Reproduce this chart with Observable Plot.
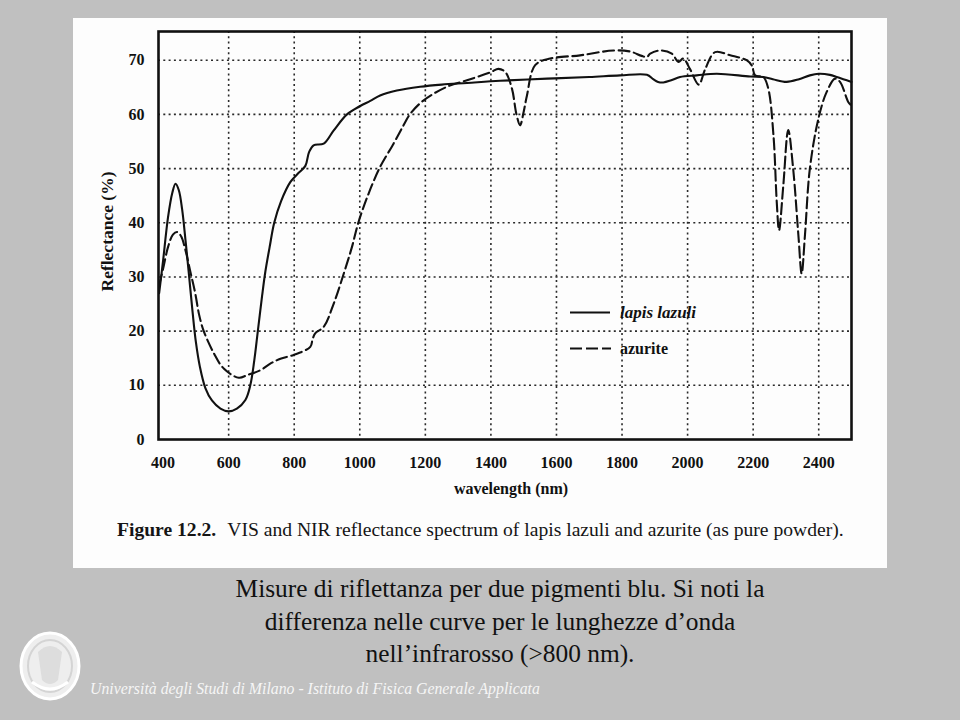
<!DOCTYPE html>
<html>
<head>
<meta charset="utf-8">
<script src="https://cdn.jsdelivr.net/npm/d3@7"></script>
<script src="https://cdn.jsdelivr.net/npm/@observablehq/plot@0.6"></script>
<style>
  html, body { margin: 0; padding: 0; }
  body { width: 960px; height: 720px; background: #c0c0c0; position: relative; overflow: hidden; font-family: "Liberation Serif", serif; }
  #panel { position: absolute; left: 73px; top: 18px; width: 814px; height: 550px; background: #fdfdfd; }
  #chart { position: absolute; left: 73px; top: 18px; }
  #legend { position: absolute; left: 560px; top: 295px; }
  #caption { position: absolute; left: 117px; top: 520px; font-size: 19.6px; line-height: 19.6px; color: #151515; white-space: nowrap; }
  #caption b { margin-right: 11px; }
  #slide { position: absolute; left: 100px; top: 572px; width: 800px; text-align: center; font-family: "Liberation Serif", serif; font-size: 25.4px; line-height: 32.5px; color: #111; }
  #footer { position: absolute; left: 90px; top: 681px; font-size: 15.8px; line-height: 16px; font-style: italic; color: #f6f6f6; white-space: nowrap; }
  #logo { position: absolute; left: 18px; top: 630px; }
</style>
</head>
<body>
<div id="panel"></div>
<div id="chart"></div>
<svg id="legend" width="190" height="70">
  <line x1="10" x2="50" y1="17.5" y2="17.5" stroke="#111" stroke-width="2"></line>
  <text x="60" y="23" font-family="Liberation Serif" font-weight="bold" font-style="italic" font-size="17" fill="#111">lapis lazuli</text>
  <line x1="10" x2="51" y1="53.5" y2="53.5" stroke="#111" stroke-width="2" stroke-dasharray="12,4"></line>
  <text x="60" y="59" font-family="Liberation Serif" font-weight="bold" font-size="16" fill="#111">azurite</text>
</svg>
<div id="caption"><b>Figure 12.2.</b>VIS and NIR reflectance spectrum of lapis lazuli and azurite (as pure powder).</div>
<div id="slide">Misure di riflettanza per due pigmenti blu. Si noti la<br>differenza nelle curve per le lunghezze d’onda<br>nell’infrarosso (&gt;800 nm).</div>
<svg id="logo" width="66" height="74">
  <ellipse cx="32" cy="36" rx="29" ry="33" fill="#eeeeee" stroke="#ffffff" stroke-width="3"></ellipse>
  <ellipse cx="32" cy="36" rx="22" ry="26" fill="none" stroke="#d4d4d4" stroke-width="2"></ellipse>
  <path d="M20 22 Q32 10 44 22 L40 50 Q32 58 24 50 Z" fill="#d8d8d8" opacity="0.8"></path>
  <path d="M14 52 Q32 66 50 52" fill="none" stroke="#ffffff" stroke-width="3"></path>
</svg>
<div id="footer">Università degli Studi di Milano - Istituto di Fisica Generale Applicata</div>
<script>
// ---- data ----
const lapisWavelength = [388, 400, 415, 428, 438, 448, 458, 468, 478, 490, 500, 512, 529, 549, 575, 600, 625, 651, 666, 678, 689, 702, 712, 725, 739, 760, 788, 810, 834, 845, 859, 890, 920, 961, 1000, 1032, 1062, 1113, 1184, 1250, 1327, 1428, 1571, 1700, 1794, 1876, 1895, 1910, 1926, 1950, 1977, 2028, 2089, 2191, 2231, 2260, 2302, 2340, 2373, 2400, 2434, 2455, 2475, 2500];
const lapisReflectance = [27, 33, 41, 45.5, 47.2, 46, 42.5, 37, 31, 23.5, 18, 13.5, 9.5, 7.2, 5.7, 5.2, 5.7, 7.3, 10, 14.5, 20, 26.5, 31, 35.5, 40, 44, 47.5, 49, 50.5, 53, 54.3, 54.6, 57, 60, 61.5, 62.5, 63.5, 64.4, 65.1, 65.5, 65.8, 66.2, 66.6, 66.9, 67.2, 67.3, 66.5, 66, 65.9, 66.3, 66.9, 67.2, 67.5, 67, 66.9, 66.5, 66, 66.5, 67.2, 67.5, 67.3, 66.9, 66.5, 66];

const azuriteWavelength = [388, 400, 415, 430, 443, 455, 468, 483, 498, 510, 524, 555, 585, 631, 657, 697, 727, 758, 798, 849, 856, 864, 890, 920, 951, 976, 996, 1027, 1062, 1103, 1130, 1154, 1195, 1266, 1327, 1400, 1423, 1444, 1464, 1478, 1489, 1500, 1510, 1535, 1581, 1672, 1774, 1825, 1860, 1876, 1886, 1916, 1952, 1972, 1987, 2007, 2034, 2054, 2084, 2130, 2180, 2196, 2206, 2231, 2246, 2262, 2272, 2279, 2292, 2307, 2322, 2338, 2348, 2358, 2373, 2399, 2424, 2450, 2465, 2490, 2497];
const azuriteReflectance = [28.5, 31.5, 35.5, 37.8, 38.3, 37.5, 35, 31, 27, 23, 20, 15.9, 13.1, 11.4, 11.9, 12.8, 14, 14.9, 15.6, 17.1, 18.5, 19.6, 20.8, 25, 30.6, 35.5, 40.1, 45.4, 50.3, 54.6, 57.6, 60.1, 62.6, 65.1, 66.3, 67.8, 68.4, 67.8, 64.8, 60, 58, 60.5, 63.5, 69.1, 70.3, 70.9, 71.8, 71.6, 70.8, 70.6, 71.2, 71.8, 71.2, 69.7, 70.3, 68.4, 65.5, 68.4, 71.5, 70.9, 70, 69, 67.2, 66.9, 64.8, 56.1, 43.8, 38.6, 46.9, 57.1, 50, 37.7, 30.6, 37.7, 50, 59.2, 64.1, 66.6, 66, 62.3, 61.8];

const xTicks = [400, 600, 800, 1000, 1200, 1400, 1600, 1800, 2000, 2200, 2400];
const yTicks = [0, 10, 20, 30, 40, 50, 60, 70];
const xLabel = "wavelength (nm)";
const yLabel = "Reflectance (%)";

const lapis = lapisWavelength.map((w, i) => ({w, r: lapisReflectance[i]}));
const azurite = azuriteWavelength.map((w, i) => ({w, r: azuriteReflectance[i]}));

const gridStyle = {stroke: "#2a2a2a", strokeOpacity: 1, strokeWidth: 1.6, strokeDasharray: "2,3.3"};

const chart = Plot.plot({
  width: 814,
  height: 490,
  marginLeft: 85,
  marginRight: 36,
  marginTop: 13,
  marginBottom: 69,
  style: {background: "transparent", fontFamily: "Liberation Serif", color: "#111"},
  x: {domain: [386, 2500]},
  y: {domain: [0, 75.3]},
  marks: [
    Plot.gridX(xTicks.filter(d => d > 400), gridStyle),
    Plot.gridY(yTicks.filter(d => d > 0), gridStyle),
    Plot.axisX(xTicks, {tickSize: 0, tickPadding: 17, fontSize: 16, fontWeight: "bold", label: null, fill: "#111", tickFormat: d => String(d)}),
    Plot.axisY(yTicks, {tickSize: 0, tickPadding: 14, fontSize: 16, fontWeight: "bold", label: null, fill: "#111", tickFormat: d => String(d)}),
    Plot.text([xLabel], {frameAnchor: "bottom", dy: 54, dx: 6, fontSize: 16, fontWeight: "bold", fill: "#111"}),
    Plot.text([yLabel], {frameAnchor: "left", textAnchor: "middle", rotate: -90, dx: -51, dy: -4, fontSize: 17.5, fontWeight: "bold", fill: "#111"}),
    Plot.line(lapis, {x: "w", y: "r", curve: "catmull-rom", stroke: "#111", strokeWidth: 2.1}),
    Plot.line(azurite, {x: "w", y: "r", curve: "catmull-rom", stroke: "#111", strokeWidth: 2.1, strokeDasharray: "11,4.5"}),
    Plot.frame({stroke: "#111", strokeWidth: 2.6})
  ]
});
document.getElementById("chart").appendChild(chart);
</script>
</body>
</html>
